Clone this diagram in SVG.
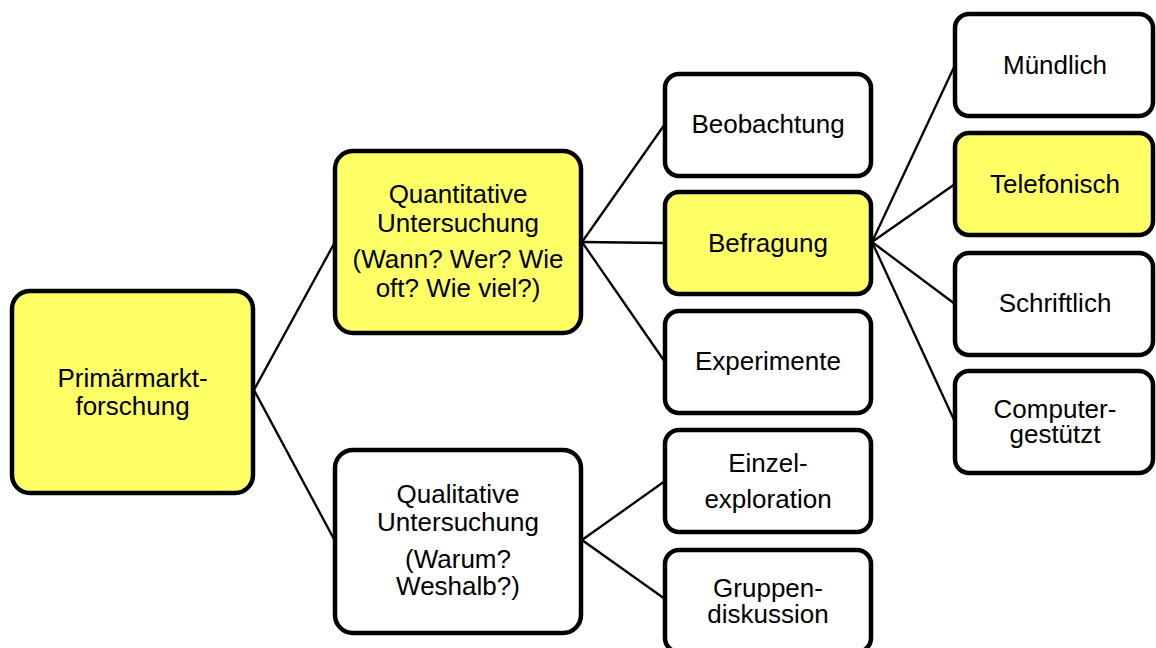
<svg xmlns="http://www.w3.org/2000/svg" width="1156" height="648" viewBox="0 0 1156 648">
<style>
.box{stroke:#000;stroke-width:4.5;fill:#fff}
.hl{fill:#FFFF66}
.big{}
text{font-family:"Liberation Sans",Arial,sans-serif;font-size:26px;fill:#000;text-anchor:middle}
.conn line{stroke:#000;stroke-width:2.3}
</style>
<rect width="1156" height="648" fill="#fff"/>
<g id="connectors" class="conn">
<line x1="254" y1="390" x2="335" y2="242"/>
<line x1="254" y1="390" x2="335" y2="541"/>
<line x1="582" y1="242" x2="665" y2="124"/>
<line x1="582" y1="242" x2="665" y2="243"/>
<line x1="582" y1="242" x2="665" y2="362"/>
<line x1="582" y1="540" x2="665" y2="481"/>
<line x1="582" y1="540" x2="665" y2="599"/>
<line x1="872" y1="242" x2="955" y2="65"/>
<line x1="872" y1="242" x2="955" y2="184"/>
<line x1="872" y1="242" x2="955" y2="304"/>
<line x1="872" y1="242" x2="955" y2="422"/>
</g>
<g id="primaer">
<rect class="box hl" x="12" y="291" width="241" height="202" rx="18"/>
<text x="132.5" y="387">Primärmarkt-</text>
<text x="132.5" y="415">forschung</text>
</g>
<g id="quantitativ">
<rect class="box hl" x="335" y="151" width="246" height="182" rx="18"/>
<text x="458" y="203">Quantitative</text>
<text x="458" y="232">Untersuchung</text>
<text x="458" y="268">(Wann? Wer? Wie</text>
<text x="458" y="297">oft? Wie viel?)</text>
</g>
<g id="qualitativ">
<rect class="box" x="335" y="450" width="246" height="183" rx="18"/>
<text x="458" y="503">Qualitative</text>
<text x="458" y="531">Untersuchung</text>
<text x="458" y="568">(Warum?</text>
<text x="458" y="595">Weshalb?)</text>
</g>
<g id="beobachtung">
<rect class="box" x="665" y="74" width="206" height="102" rx="14"/>
<text x="768" y="133">Beobachtung</text>
</g>
<g id="befragung">
<rect class="box hl" x="665" y="192" width="206" height="102" rx="14"/>
<text x="768" y="252">Befragung</text>
</g>
<g id="experimente">
<rect class="box" x="665" y="311" width="206" height="102" rx="14"/>
<text x="768" y="370">Experimente</text>
</g>
<g id="einzelexploration">
<rect class="box" x="665" y="430" width="206" height="102" rx="14"/>
<text x="768" y="472">Einzel-</text>
<text x="768" y="508">exploration</text>
</g>
<g id="gruppendiskussion">
<rect class="box" x="665" y="550" width="206" height="102" rx="14"/>
<text x="768" y="597">Gruppen-</text>
<text x="768" y="623">diskussion</text>
</g>
<g id="muendlich">
<rect class="box" x="955" y="14" width="198" height="102" rx="14"/>
<text x="1055" y="74">Mündlich</text>
</g>
<g id="telefonisch">
<rect class="box hl" x="955" y="133" width="198" height="102" rx="14"/>
<text x="1055" y="193">Telefonisch</text>
</g>
<g id="schriftlich">
<rect class="box" x="955" y="253" width="198" height="102" rx="14"/>
<text x="1055" y="312">Schriftlich</text>
</g>
<g id="computergestuetzt">
<rect class="box" x="955" y="371" width="198" height="102" rx="14"/>
<text x="1055" y="418">Computer-</text>
<text x="1055" y="443">gestützt</text>
</g>
</svg>
